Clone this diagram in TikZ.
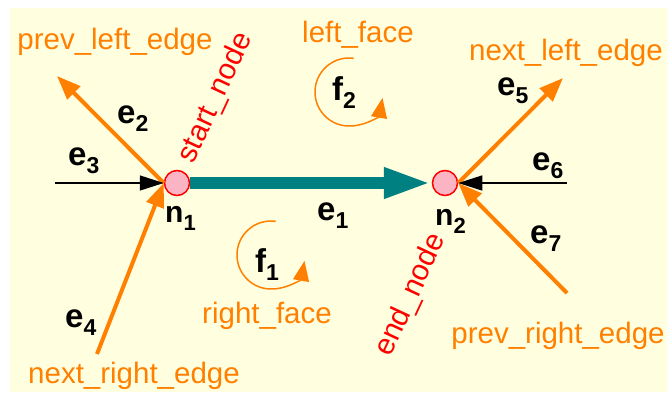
\documentclass[tikz,border=0pt]{standalone}
\usepackage{fontspec}
\setmainfont{Liberation Sans}
\usetikzlibrary{arrows.meta}
\definecolor{bgyellow}{RGB}{255,255,224}
\definecolor{edgeorange}{RGB}{255,128,0}
\definecolor{edgeteal}{RGB}{0,128,128}
\definecolor{nodepink}{RGB}{250,180,195}
% bold label with a lowered index
\newcommand{\elab}[2]{{\fontsize{33}{33}\selectfont\bfseries #1\raisebox{-0.25em}{\fontsize{23}{23}\selectfont #2}}}
\newcommand{\nlab}[2]{{\fontsize{30}{30}\selectfont\bfseries #1\raisebox{-0.27em}{\fontsize{22}{22}\selectfont #2}}}

\begin{document}
\begin{tikzpicture}[x=1pt,y=1pt,>=Triangle,
  orangelabel/.style={text=edgeorange,font=\fontsize{29.5}{30}\selectfont,inner sep=0pt,anchor=base},
  redlabel/.style={text=red,font=\fontsize{29.5}{30}\selectfont,inner sep=0pt,rotate=65},
  boldlabel/.style={inner sep=0pt,anchor=base west},
  vertex/.style={circle,draw=red,fill=nodepink,line width=1.5pt,minimum size=25pt,inner sep=0pt},
  orangeedge/.style={draw=edgeorange,line width=4pt,-{Triangle[length=24pt,width=18pt]}},
  blackedge/.style={draw=black,line width=1.5pt,-{Triangle[length=24pt,width=15pt]}},
  tealedge/.style={draw=edgeteal,line width=12pt,-{Triangle[length=48pt,width=28pt]}},
  faceloop/.style={draw=edgeorange,line width=1.5pt,-{Triangle[length=20pt,width=16pt]}}]
  \useasboundingbox (0,0) rectangle (667,-392);
  \fill[bgyellow] (10,-8) rectangle (667,-392);

  % nodes
  \node[vertex] (n1) at (177,-183) {};
  \node[vertex] (n2) at (445,-183) {};

  % free ends of the edges
  \coordinate (e2end) at (57,-76);
  \coordinate (e3start) at (55,-183);
  \coordinate (e4start) at (97,-354);
  \coordinate (e5end) at (563,-78);
  \coordinate (e6start) at (567,-183);
  \coordinate (e7start) at (567,-293);
  \coordinate (f1c) at (271,-255);
  \coordinate (f2c) at (349,-92);

  % edges
  \draw[tealedge] (n1.east) -- (n2.west);
  \draw[orangeedge] (n1.west) -- (e2end);
  \draw[blackedge] (e3start) -- (n1.west);
  \draw[orangeedge] (e4start) -- (n1.west);
  \draw[orangeedge] (n2.east) -- (e5end);
  \draw[blackedge] (e6start) -- (n2.east);
  \draw[orangeedge] (e7start) -- (n2.east);

  % faces
  \draw[faceloop] ([shift={(82:34)}]f2c) arc[start angle=82,end angle=350,radius=34];
  \draw[faceloop] ([shift={(82:34)}]f1c) arc[start angle=82,end angle=350,radius=34];

  % labels
  \node[boldlabel] (le1) at (317,-220) {\elab{e}{1}};
  \node[boldlabel] (le2) at (117,-123) {\elab{e}{2}};
  \node[boldlabel] (le3) at (68,-165) {\elab{e}{3}};
  \node[boldlabel] (le4) at (65,-327) {\elab{e}{4}};
  \node[boldlabel] (le5) at (497,-95) {\elab{e}{5}};
  \node[boldlabel] (le6) at (532,-170) {\elab{e}{6}};
  \node[boldlabel] (le7) at (530,-243) {\elab{e}{7}};
  \node[boldlabel] (ln1) at (165,-222) {\nlab{n}{1}};
  \node[boldlabel] (ln2) at (435,-225) {\nlab{n}{2}};
  \node[boldlabel] (lf1) at (255,-272) {\elab{f}{1}};
  \node[boldlabel] (lf2) at (332,-100) {\elab{f}{2}};

  \node[orangelabel] (prevleft) at (115,-49) {prev\_left\_edge};
  \node[orangelabel] (leftface) at (358,-42) {left\_face};
  \node[orangelabel] (nextleft) at (566,-60) {next\_left\_edge};
  \node[orangelabel] (rightface) at (267,-323) {right\_face};
  \node[orangelabel] (nextright) at (134,-383) {next\_right\_edge};
  \node[orangelabel] (prevright) at (558,-343) {prev\_right\_edge};

  \node[redlabel] (startlab) at (216,-98) {start\_node};
  \node[redlabel] (endlab) at (411,-295) {end\_node};
\end{tikzpicture}
\end{document}
